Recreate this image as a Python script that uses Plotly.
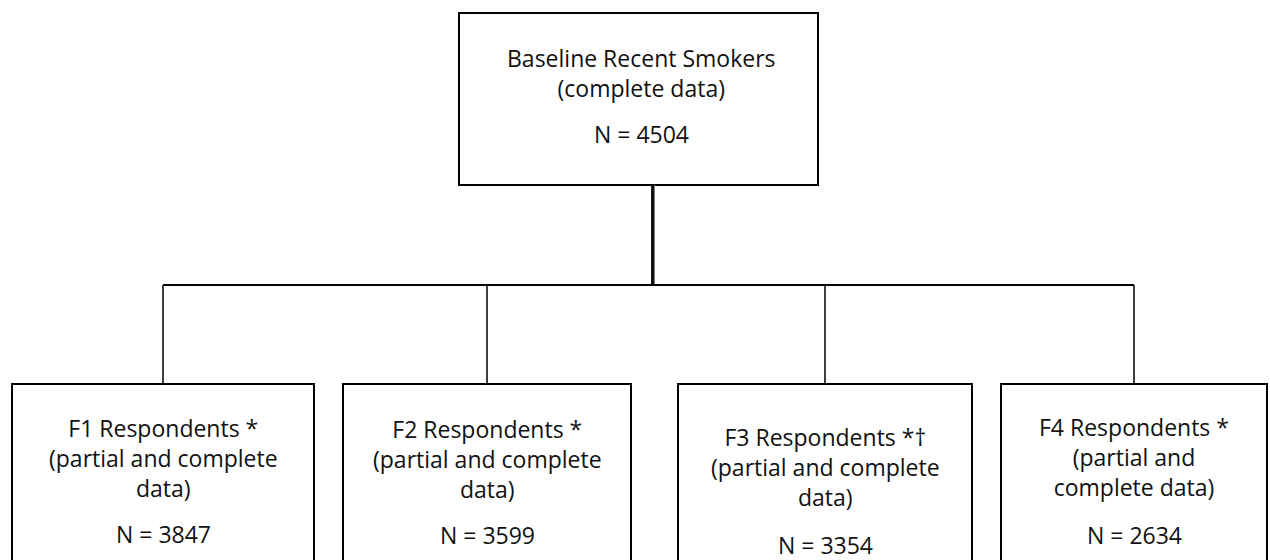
import plotly.graph_objects as go

# ---- data ----
top_title = ["Baseline Recent Smokers", "(complete data)"]
top_n = 4504
wave_labels = ["F1", "F2", "F3", "F4"]
wave_marks = ["*", "*", "*†", "*"]
wave_sub = [
    ["(partial and complete", "data)"],
    ["(partial and complete", "data)"],
    ["(partial and complete", "data)"],
    ["(partial and", "complete data)"],
]
wave_n = [3847, 3599, 3354, 2634]

# ---- layout geometry (pixels) ----
W, H = 1270, 560
top_box = (459, 13, 818, 185)
top_block_y, top_n_y = 72.5, 134
stem_x = 653
bar_y = 285
child_top = 384
child_boxes = [(12, 314), (343, 631), (678, 972), (1001, 1267)]
child_block_y = [458, 458.5, 466.5, 456.5]
child_n_y = [534, 535, 545, 535]

FONT = dict(family="'Open Sans', 'Noto Sans', sans-serif", size=23, color="#111111")
LC = "#000000"

fig = go.Figure()
shapes = []
ann = []

# top box
x0, y0, x1, y1 = top_box
shapes.append(dict(type="rect", x0=x0, y0=y0, x1=x1, y1=y1,
                   line=dict(color=LC, width=2), fillcolor="white"))
top_cx = (x0 + x1) / 2 + 3
ann.append(dict(x=top_cx, y=top_block_y, text="<br>".join(top_title), showarrow=False,
                xanchor="center", yanchor="middle", align="center", font=FONT))
ann.append(dict(x=top_cx, y=top_n_y, text=f"N = {top_n}", showarrow=False,
                xanchor="center", yanchor="middle", font=FONT))

# stem (double line)
shapes.append(dict(type="line", x0=stem_x, y0=y1, x1=stem_x, y1=bar_y,
                   line=dict(color="#777777", width=4)))
shapes.append(dict(type="line", x0=stem_x - 0.5, y0=y1, x1=stem_x - 0.5, y1=bar_y,
                   line=dict(color=LC, width=2.5)))

# horizontal bar
centers = [(a + b) / 2 for a, b in child_boxes]
shapes.append(dict(type="line", x0=centers[0], y0=bar_y, x1=centers[-1], y1=bar_y,
                   line=dict(color=LC, width=2)))

for i, (a, b) in enumerate(child_boxes):
    c = centers[i]
    shapes.append(dict(type="line", x0=c, y0=bar_y, x1=c, y1=child_top,
                       line=dict(color=LC, width=1.5)))
    shapes.append(dict(type="path",
                       path=f"M {a},{H + 10} L {a},{child_top} L {b},{child_top} L {b},{H + 10}",
                       line=dict(color=LC, width=2)))
    block = [f"{wave_labels[i]} Respondents {wave_marks[i]}"] + wave_sub[i]
    ann.append(dict(x=c, y=child_block_y[i], text="<br>".join(block), showarrow=False,
                    xanchor="center", yanchor="middle", align="center", font=FONT))
    ann.append(dict(x=c, y=child_n_y[i], text=f"N = {wave_n[i]}", showarrow=False,
                    xanchor="center", yanchor="middle", font=FONT))

fig.update_layout(
    width=W, height=H,
    margin=dict(l=0, r=0, t=0, b=0),
    paper_bgcolor="white", plot_bgcolor="white",
    xaxis=dict(range=[0, W], visible=False, fixedrange=True),
    yaxis=dict(range=[H, 0], visible=False, fixedrange=True),
    shapes=shapes, annotations=ann, showlegend=False,
)

fig.write_html("out.html", config={"displayModeBar": False},
               post_script="document.body.style.margin='0';document.body.style.overflow='hidden';")
